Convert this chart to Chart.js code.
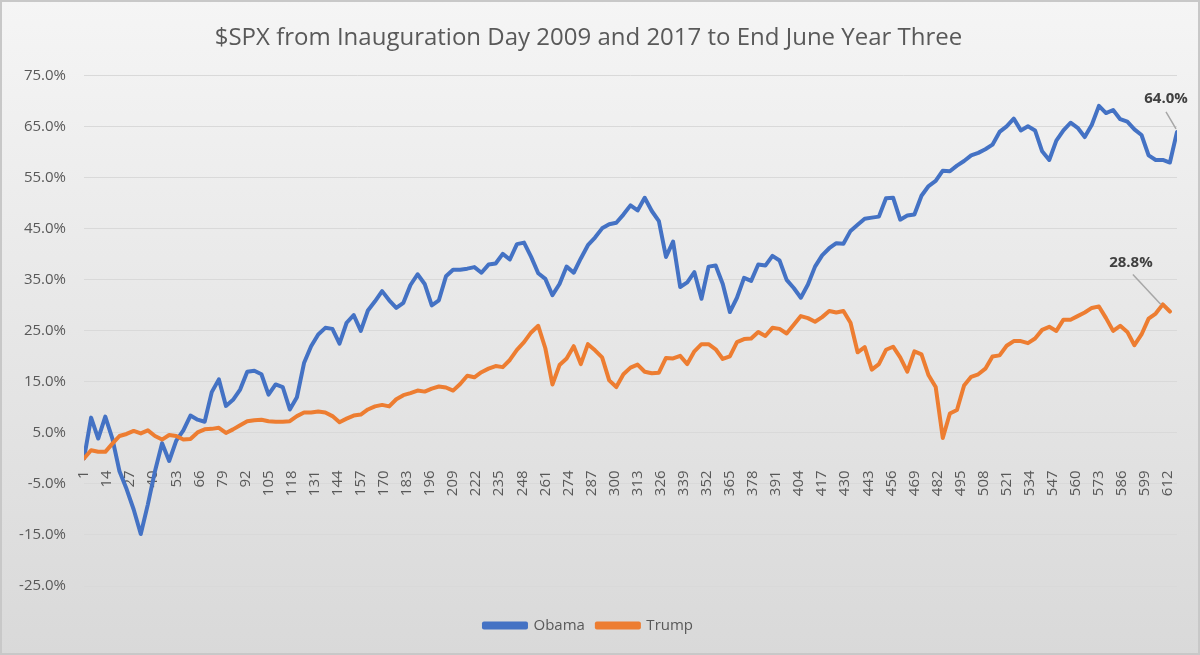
<!DOCTYPE html>
<html>
<head>
<meta charset="utf-8">
<script src="https://cdn.jsdelivr.net/npm/chart.js@4/dist/chart.umd.min.js"></script>
<style>
  html, body { margin: 0; padding: 0; background: #e6e6e6; }
</style>
</head>
<body>
<canvas id="myChart" width="1200" height="655"></canvas>
<script>
// % change in $SPX since inauguration day, one value every 4 trading days
const dayStep = 4;

const obamaPct = [
  0, 8, 3.9, 8.2, 3.9, -2.5, -6, -10, -14.8, -9,
  -2.5, 3, -0.5, 3.5, 5.5, 8.4, 7.6, 7.2, 13, 15.5,
  10.3, 11.5, 13.5, 17, 17.2, 16.5, 12.5, 14.5, 14, 9.6,
  12, 18.7, 22, 24.3, 25.6, 25.4, 22.5, 26.6, 28.1, 25,
  29, 30.8, 32.8, 31, 29.5, 30.5, 34, 36.1, 34.2, 30,
  31, 35.7, 37, 37, 37.2, 37.5, 36.4, 38, 38.2, 40.1,
  39, 42, 42.3, 39.5, 36.3, 35.2, 32, 34.2, 37.6, 36.4,
  39.2, 41.8, 43.3, 45.1, 45.9, 46.2, 47.8, 49.6, 48.6, 51.1,
  48.5, 46.5, 39.5, 42.5, 33.6, 34.5, 36.5, 31.3, 37.6, 37.8,
  34.2, 28.7, 31.5, 35.4, 34.8, 38, 37.8, 39.7, 38.8, 35,
  33.4, 31.5, 34.1, 37.6, 39.8, 41.2, 42.2, 42.1, 44.6, 45.8,
  47, 47.2, 47.4, 51, 51.1, 46.8, 47.6, 47.8, 51.5, 53.4,
  54.4, 56.4, 56.3, 57.4, 58.3, 59.4, 59.9, 60.6, 61.5, 64,
  65.1, 66.6, 64.3, 65.1, 64.3, 60.2, 58.5, 62.3, 64.3, 65.8,
  64.8, 63, 65.4, 69.1, 67.7, 68.3, 66.5, 66, 64.5, 63.4,
  59.4, 58.5, 58.5, 58, 64.0
];

const trumpPct = [
  0, 1.6, 1.3, 1.3, 2.9, 4.4, 4.8, 5.4, 4.9, 5.5,
  4.4, 3.7, 4.6, 4.4, 3.7, 3.8, 5.1, 5.7, 5.8, 6,
  5, 5.7, 6.5, 7.3, 7.5, 7.6, 7.3, 7.2, 7.2, 7.3,
  8.3, 9, 9, 9.2, 9, 8.3, 7.1, 7.8, 8.4, 8.6,
  9.6, 10.2, 10.5, 10.2, 11.6, 12.4, 12.8, 13.3, 13.1, 13.7,
  14.1, 13.9, 13.3, 14.6, 16.2, 15.9, 16.9, 17.6, 18.1, 17.9,
  19.3, 21.3, 22.8, 24.7, 26, 21.6, 14.5, 18.3, 19.6, 22,
  18.5, 22.4, 21.2, 19.8, 15.3, 14, 16.5, 17.8, 18.4, 17,
  16.7, 16.8, 19.7, 19.6, 20.1, 18.5, 21, 22.4, 22.4, 21.4,
  19.5, 20, 22.8, 23.4, 23.5, 24.8, 24, 25.6, 25.4, 24.5,
  26.2, 27.9, 27.5, 26.8, 27.7, 28.9, 28.6, 28.9, 26.6, 20.8,
  21.8, 17.4, 18.5, 21.3, 21.9, 19.8, 17, 21, 20.4, 16.3,
  14, 4, 8.8, 9.5, 14.3, 16, 16.5, 17.6, 20, 20.2,
  22.1, 23, 23, 22.6, 23.5, 25.2, 25.8, 25, 27.2, 27.2,
  27.9, 28.6, 29.5, 29.8, 27.5, 25, 26, 24.8, 22.2, 24.3,
  27.4, 28.4, 30.2, 28.8
];

const xTickLabels = [1, 14, 27, 40, 53, 66, 79, 92, 105, 118, 131, 144, 157, 170, 183, 196,
  209, 222, 235, 248, 261, 274, 287, 300, 313, 326, 339, 352, 365, 378, 391, 404,
  417, 430, 443, 456, 469, 482, 495, 508, 521, 534, 547, 560, 573, 586, 599, 612];
const yTickLabels = [-25, -15, -5, 5, 15, 25, 35, 45, 55, 65, 75];

const FONT = "'Open Sans', 'Liberation Sans', sans-serif";
const TEXT = '#595959';

const toPoints = vals => vals.map((v, i) => ({ x: 1 + i * dayStep, y: v }));

// where the end-value labels sit relative to the last point
const callouts = [
  { from: [-1, -3], to: [-11, -20], text: [-11, -33] },
  { from: [-9, -7], to: [-37, -37], text: [-39, -49] }
];

const bgPlugin = {
  id: 'bg',
  beforeDraw(chart) {
    const { ctx, width, height } = chart;
    const g = ctx.createLinearGradient(0, 0, 0, height);
    g.addColorStop(0, '#f5f5f5');
    g.addColorStop(1, '#d9d9d9');
    ctx.save();
    ctx.fillStyle = g;
    ctx.fillRect(0, 0, width, height);
    ctx.strokeStyle = '#c8c8c8';
    ctx.lineWidth = 2;
    ctx.strokeRect(1, 1, width - 2, height - 2);
    ctx.restore();
  }
};

const calloutPlugin = {
  id: 'callout',
  afterDatasetsDraw(chart) {
    const ctx = chart.ctx;
    chart.data.datasets.forEach((ds, i) => {
      const c = callouts[i];
      const meta = chart.getDatasetMeta(i);
      const pt = meta.data[meta.data.length - 1];
      const val = ds.data[ds.data.length - 1].y;
      ctx.save();
      ctx.strokeStyle = '#a6a6a6';
      ctx.lineWidth = 1.5;
      ctx.beginPath();
      ctx.moveTo(pt.x + c.from[0], pt.y + c.from[1]);
      ctx.lineTo(pt.x + c.to[0], pt.y + c.to[1]);
      ctx.stroke();
      ctx.font = 'bold 15px ' + FONT;
      ctx.fillStyle = '#404040';
      ctx.textAlign = 'center';
      ctx.textBaseline = 'middle';
      ctx.fillText(val.toFixed(1) + '%', pt.x + c.text[0], pt.y + c.text[1]);
      ctx.restore();
    });
  }
};

const ctx = document.getElementById('myChart').getContext('2d');
new Chart(ctx, {
  type: 'line',
  data: {
    datasets: [
      {
        label: 'Obama',
        data: toPoints(obamaPct),
        borderColor: '#4472C4',
        backgroundColor: '#4472C4',
        order: 1
      },
      {
        label: 'Trump',
        data: toPoints(trumpPct),
        borderColor: '#ED7D31',
        backgroundColor: '#ED7D31',
        order: 0
      }
    ]
  },
  options: {
    responsive: false,
    animation: false,
    layout: { padding: { left: 0, right: 23, top: 0, bottom: 12 } },
    elements: {
      point: { radius: 0 },
      line: { borderWidth: 4, tension: 0, borderJoinStyle: 'round', borderCapStyle: 'round' }
    },
    scales: {
      x: {
        type: 'linear',
        position: { y: 0 },
        min: 1,
        max: 617,
        grid: { display: false, drawTicks: false },
        border: { display: false },
        afterBuildTicks: scale => { scale.ticks = xTickLabels.map(v => ({ value: v })); },
        ticks: {
          autoSkip: false,
          minRotation: 90,
          maxRotation: 90,
          padding: 12,
          color: TEXT,
          font: { family: FONT, size: 15 },
          callback: v => String(v)
        }
      },
      y: {
        min: -25,
        max: 75,
        grid: { color: '#d9d9d9', lineWidth: 1, drawTicks: false },
        border: { display: false },
        afterBuildTicks: scale => { scale.ticks = yTickLabels.map(v => ({ value: v })); },
        afterFit: scale => { scale.width = 84; },
        ticks: {
          padding: 18,
          color: TEXT,
          font: { family: FONT, size: 15 },
          callback: v => v.toFixed(1) + '%'
        }
      }
    },
    plugins: {
      title: {
        display: true,
        text: '$SPX from Inauguration Day 2009 and 2017 to End June Year Three',
        color: TEXT,
        font: { family: FONT, size: 24, weight: 'normal' },
        padding: { top: 24, bottom: 23 }
      },
      legend: {
        position: 'bottom',
        title: { display: true, text: '', font: { size: 10 }, padding: { top: 8, bottom: 0 } },
        labels: {
          color: TEXT,
          font: { family: FONT, size: 15 },
          boxWidth: 42,
          boxHeight: 4,
          padding: 12,
          sort: (a, b) => a.datasetIndex - b.datasetIndex
        }
      },
      tooltip: { enabled: false }
    }
  },
  plugins: [bgPlugin, calloutPlugin]
});
</script>
</body>
</html>
